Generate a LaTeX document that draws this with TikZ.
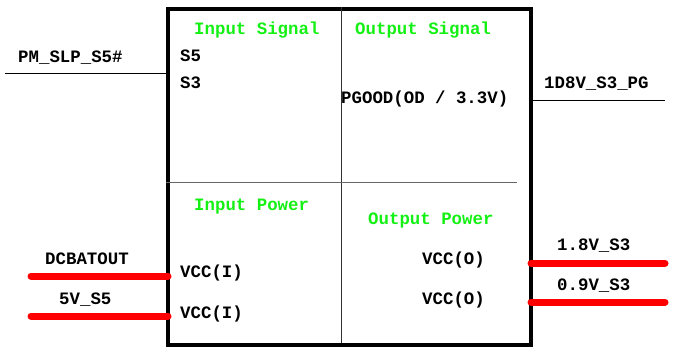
\documentclass[tikz,border=0pt]{standalone}
\usepackage{fontspec}
\usepackage{tikz}
\usetikzlibrary{calc,positioning}
\setmonofont{Liberation Mono}
\definecolor{titlegreen}{RGB}{20,240,20}
\definecolor{railred}{RGB}{255,0,0}
\tikzset{
  every picture/.style={draw=black, text=black},
  pintext/.style={font=\ttfamily\bfseries\fontsize{17.4}{20}\selectfont, inner sep=0pt, anchor=base west},
  titletext/.style={pintext, text=titlegreen},
  railwire/.style={draw=railred, line width=7pt, line cap=round},
  sigwire/.style={draw=black, line width=1pt},
}

\begin{document}
\begin{tikzpicture}[x=1pt,y=-1pt]
\useasboundingbox (0,0) rectangle (674,350);
% The regulator block
\node[draw, line width=4pt, minimum width=363pt, minimum height=336pt,
      inner sep=0pt, anchor=north west] (chip) at (166,7) {};
% Quadrant dividers
\coordinate (divtop) at (341,7);
\coordinate (divbot) at (341,343);
\coordinate (midleft) at (166,182);
\coordinate (midright) at (517,182);
\draw[black!80, line width=1pt] (divtop) -- (divbot);
\draw[black!60, line width=1pt] (midleft) -- (midright);
% Quadrant titles
\node[titletext] (insig)  at (194,35)  {Input Signal};
\node[titletext] (outsig) at (355,35)  {Output Signal};
\node[titletext] (inpwr)  at (194,210) {Input Power};
\node[titletext] (outpwr) at (368,224) {Output Power};
% Pin names inside the block
\node[pintext] (pins5)  at (180,62)  {S5};
\node[pintext] (pins3)  at (180,89)  {S3};
\node[pintext] (pinpg)  at (341,103) {PGOOD(OD / 3.3V)};
\node[pintext] (vcci1)  at (180,277) {VCC(I)};
\node[pintext] (vcci2)  at (180,318) {VCC(I)};
\node[pintext] (vcco1)  at (422,264) {VCC(O)};
\node[pintext] (vcco2)  at (422,304) {VCC(O)};
% Net names outside
\node[pintext] (netslp) at (18,63)   {PM\_SLP\_S5\#};
\node[pintext] (netpg)  at (544,89)  {1D8V\_S3\_PG};
\node[pintext] (netbat) at (45,264)  {DCBATOUT};
\node[pintext] (netfive) at (59,304) {5V\_S5};
\node[pintext] (neteight) at (557,250) {1.8V\_S3};
\node[pintext] (netnine) at (557,290) {0.9V\_S3};
% Wire ends
\coordinate (slpend)   at (5,74);
\coordinate (pgend)    at (665,101);
\coordinate (batend)   at (31,276);
\coordinate (fiveend)  at (31,316);
\coordinate (eightend) at (665,263);
\coordinate (nineend)  at (665,302);
% Signal wires
\draw[sigwire] (slpend) -- (slpend -| chip.west);
\draw[sigwire] (pgend) -- (pgend -| chip.east);
% Power rails
\draw[railwire] (batend) -- ($(batend -| chip.west)+(2,0)$);
\draw[railwire] (fiveend) -- ($(fiveend -| chip.west)+(2,0)$);
\draw[railwire] (eightend) -- ($(eightend -| chip.east)+(-2,0)$);
\draw[railwire] (nineend) -- ($(nineend -| chip.east)+(-2,0)$);
\end{tikzpicture}
\end{document}
